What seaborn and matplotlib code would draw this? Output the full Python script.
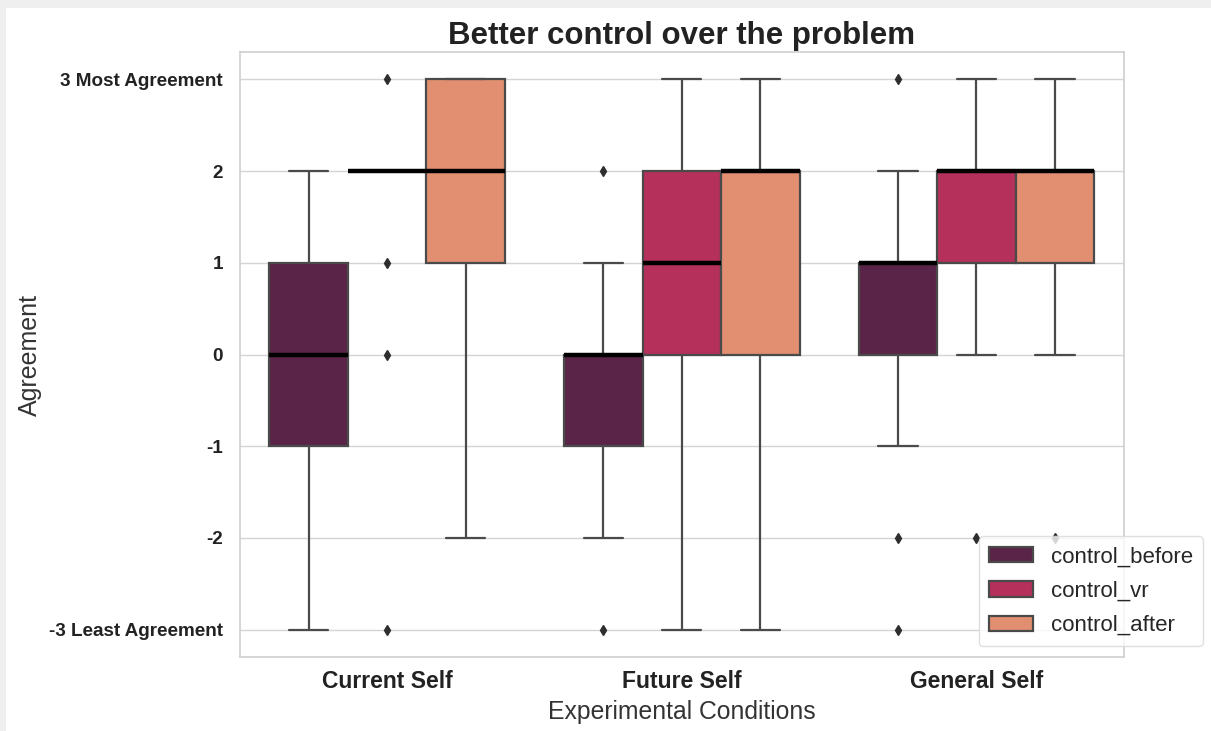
import matplotlib
matplotlib.use("Agg")
import matplotlib.pyplot as plt
import seaborn as sns
import pandas as pd
from matplotlib.patches import Rectangle

# Likert responses (-3 .. 3) per experimental condition and measurement point
conditions = ["Current Self", "Future Self", "General Self"]
measures = ["control_before", "control_vr", "control_after"]

current_before = [-3, -2, -1, -1, -1, -1, -1, 0, 0, 0, 0, 0, 0, 1, 1, 1, 1, 2, 2, 2]
current_vr = [-3, 0, 1, 2, 2, 2, 2, 2, 2, 2, 2, 2, 2, 2, 2, 2, 2, 2, 2, 3]
current_after = [-2, 0, 1, 1, 1, 1, 2, 2, 2, 2, 2, 2, 3, 3, 3, 3, 3, 3, 3, 3]

future_before = [-3, -2, -1, -1, -1, -1, -1, -1, -1, 0, 0, 0, 0, 0, 0, 0, 0, 0, 1, 2]
future_vr = [-3, -1, 0, 0, 0, 0, 1, 1, 1, 1, 1, 1, 2, 2, 2, 2, 2, 2, 3, 3]
future_after = [-3, -1, 0, 0, 0, 0, 1, 1, 2, 2, 2, 2, 2, 2, 2, 2, 2, 2, 3, 3]

general_before = [-3, -2, -1, 0, 0, 0, 0, 0, 0, 1, 1, 1, 1, 1, 1, 1, 1, 2, 2, 3]
general_vr = [-2, 0, 0, 1, 1, 1, 1, 1, 2, 2, 2, 2, 2, 2, 2, 2, 2, 2, 3, 3]
general_after = [-2, 0, 1, 1, 1, 1, 1, 1, 2, 2, 2, 2, 2, 2, 2, 2, 2, 2, 3, 3]

y_ticks = [-3, -2, -1, 0, 1, 2, 3]
y_tick_labels = ["-3 Least Agreement", "-2", "-1", "0", "1", "2", "3 Most Agreement"]

responses = {
    ("Current Self", "control_before"): current_before,
    ("Current Self", "control_vr"): current_vr,
    ("Current Self", "control_after"): current_after,
    ("Future Self", "control_before"): future_before,
    ("Future Self", "control_vr"): future_vr,
    ("Future Self", "control_after"): future_after,
    ("General Self", "control_before"): general_before,
    ("General Self", "control_vr"): general_vr,
    ("General Self", "control_after"): general_after,
}

rows = []
for (cond, meas), vals in responses.items():
    for v in vals:
        rows.append({"condition": cond, "measure": meas, "score": v})
df = pd.DataFrame(rows)

sns.set_theme(style="whitegrid")
plt.rcParams["font.family"] = ["Liberation Sans", "DejaVu Sans"]

fig = plt.figure(figsize=(12.11, 7.31), dpi=100)
ax = fig.add_axes([0.198, 0.101, 0.730, 0.828])

box_colors = ["#5a2449", "#b5305a", "#e18f70"]
sns.boxplot(
    data=df, x="condition", y="score", hue="measure",
    order=conditions, hue_order=measures,
    palette=box_colors, saturation=1, ax=ax,
    linewidth=1.6, linecolor="#4a4a4a",
    medianprops={"color": "black", "linewidth": 3.2},
    flierprops={"marker": "d", "markerfacecolor": "#2e2e2e",
                "markeredgecolor": "#2e2e2e"},
    fliersize=5.5,
)

ax.set_yticks(y_ticks)
ax.set_yticklabels(y_tick_labels, fontsize=13.6, fontweight="bold", color="#222222")
ax.tick_params(axis="y", pad=6)
for lbl in ax.get_xticklabels():
    lbl.set_fontsize(16.5)
    lbl.set_fontweight("bold")
    lbl.set_color("#222222")
ax.tick_params(axis="x", pad=3)

ax.set_title("Better control over the problem", fontsize=22.5, fontweight="bold",
             color="#222222", pad=6)
ax.set_xlabel("Experimental Conditions", fontsize=17.8, color="#333333", labelpad=5)
ax.set_ylabel("Agreement", fontsize=18, color="#333333")
ax.yaxis.set_label_coords(-0.224, 0.5)

for s in ax.spines.values():
    s.set_color("#d0d0d0")
ax.grid(axis="y", color="#d4d4d4")
ax.grid(axis="x", visible=False)

leg = ax.legend(loc="lower right", bbox_to_anchor=(1.102, 0.0),
                fontsize=16, title=None, frameon=True,
                labelspacing=0.6, borderpad=0.45, handletextpad=0.8)
leg.get_frame().set_edgecolor("#d8d8d8")

# window chrome around the figure
fig.patches.append(Rectangle((0, 1 - 8 / 731), 1, 8 / 731, transform=fig.transFigure,
                             facecolor="#efefef", edgecolor="none", zorder=-1))
fig.patches.append(Rectangle((0, 0), 6 / 1211, 1, transform=fig.transFigure,
                             facecolor="#efefef", edgecolor="none", zorder=-1))

fig.savefig("out.png", dpi=100)
